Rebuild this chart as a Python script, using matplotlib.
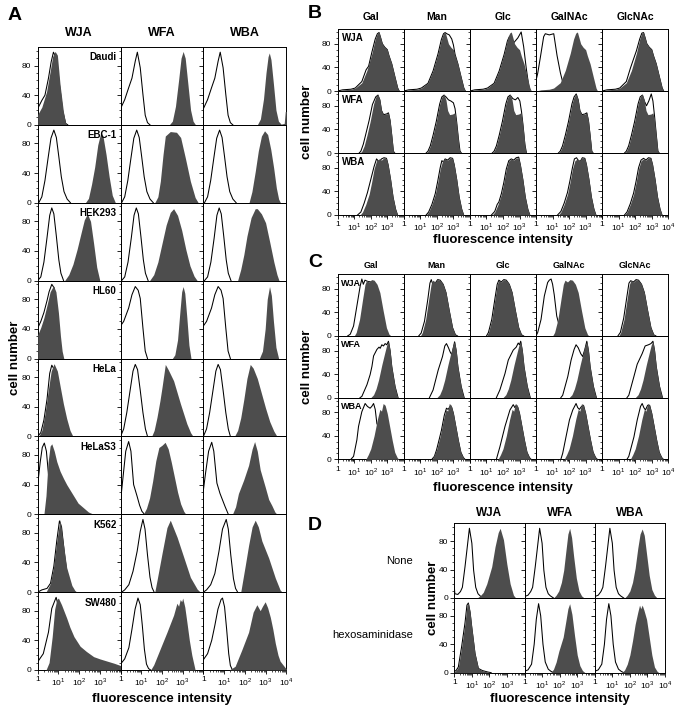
import numpy as np
import matplotlib
matplotlib.use("Agg")
import matplotlib.pyplot as plt
from matplotlib.ticker import FixedLocator, FixedFormatter

plt.rcParams['font.family'] = ['Liberation Sans', 'DejaVu Sans']
plt.rcParams['mathtext.fontset'] = 'custom'
plt.rcParams['mathtext.rm'] = 'Liberation Sans'
plt.rcParams['mathtext.bf'] = 'Liberation Sans:bold'

# each curve: (log10 fluorescence intensity, cell number)

# ---- panel A ----
a_cells = ['Daudi', 'EBC-1', 'HEK293', 'HL60', 'HeLa', 'HeLaS3', 'K562', 'SW480']
a_lectins = ['WJA', 'WFA', 'WBA']

daudi_wja_open = [(0,22),(0.2,33),(0.35,40),(0.52,63),(0.65,85),(0.76,98),(0.9,90),(1.05,55),(1.2,20),(1.35,2),(1.45,0)]
daudi_wja_fill = [(0,14),(0.2,24),(0.43,45),(0.6,72),(0.72,92),(0.84,99),(0.95,94),(1.08,54),(1.24,18),(1.35,2),(1.42,0)]
daudi_ctrl = [(0,22),(0.2,34),(0.39,50),(0.55,63),(0.71,86),(0.81,98),(0.95,77),(1.08,41),(1.19,13),(1.3,3),(1.42,0)]
daudi_wfa_fill = [(2.35,0),(2.5,5),(2.65,25),(2.8,60),(2.92,90),(3.02,99),(3.12,90),(3.25,55),(3.38,20),(3.5,5),(3.62,0)]
daudi_wba_fill = [(2.6,0),(2.75,8),(2.9,35),(3.02,70),(3.12,92),(3.18,97),(3.26,88),(3.38,55),(3.5,20),(3.62,5),(3.75,1),(3.9,2),(3.95,18),(4.0,18)]

ebc1_ctrl = [(0.05,0),(0.2,8),(0.35,30),(0.5,60),(0.64,87),(0.78,98),(0.9,88),(1.02,62),(1.14,35),(1.27,15),(1.42,5),(1.58,0)]
ebc1_wja_fill = [(2.3,0),(2.45,6),(2.6,25),(2.75,48),(2.9,78),(3.05,95),(3.15,90),(3.3,65),(3.45,35),(3.6,10),(3.75,0)]
ebc1_wfa_fill = [(1.65,0),(1.8,8),(1.92,29),(2.05,65),(2.16,90),(2.4,96),(2.7,95),(2.9,88),(3.13,60),(3.37,29),(3.6,7),(3.75,0)]
ebc1_wba_fill = [(2.2,0),(2.34,15),(2.5,42),(2.65,70),(2.8,90),(2.95,97),(3.1,92),(3.25,72),(3.39,47),(3.52,20),(3.63,5),(3.72,0)]

hek_wja_open = [(0.0,0),(0.15,5),(0.3,25),(0.45,58),(0.58,88),(0.68,98),(0.78,90),(0.9,60),(1.02,28),(1.12,10),(1.25,0)]
hek_ctrl = [(0.05,0),(0.2,5),(0.36,25),(0.52,58),(0.65,88),(0.76,98),(0.86,90),(0.98,60),(1.1,28),(1.2,10),(1.33,0)]
hek_wja_fill = [(1.3,0),(1.5,8),(1.7,22),(1.9,42),(2.1,65),(2.25,82),(2.4,90),(2.55,80),(2.7,50),(2.85,18),(3.0,0)]
hek_wfa_fill = [(1.4,0),(1.6,8),(1.8,25),(2.0,50),(2.2,75),(2.4,92),(2.56,97),(2.75,88),(2.95,68),(3.15,42),(3.35,20),(3.55,6),(3.7,0)]
hek_wba_fill = [(1.65,0),(1.8,15),(1.95,35),(2.1,60),(2.3,85),(2.5,97),(2.6,97),(2.8,90),(3.0,78),(3.2,52),(3.4,25),(3.55,8),(3.65,0)]

hl60_wja_open = [(0,41),(0.15,50),(0.3,62),(0.45,78),(0.55,90),(0.68,100),(0.8,95),(0.9,70),(1.0,35),(1.08,10),(1.15,0)]
hl60_wja_fill = [(0,32),(0.15,42),(0.3,55),(0.45,72),(0.6,90),(0.76,98),(0.88,90),(1.0,62),(1.1,30),(1.18,10),(1.26,0)]
hl60_ctrl = [(0,44),(0.15,50),(0.39,68),(0.55,86),(0.71,97),(0.85,92),(0.95,81),(1.08,41),(1.19,10),(1.3,0)]
hl60_wfa_fill = [(2.5,0),(2.62,5),(2.75,25),(2.87,65),(2.95,90),(3.02,97),(3.1,88),(3.2,55),(3.3,18),(3.4,0)]
hl60_wba_fill = [(2.7,0),(2.85,10),(2.98,40),(3.08,80),(3.19,97),(3.28,85),(3.38,50),(3.5,15),(3.63,0)]

hela_wja_open = [(0.0,0),(0.15,5),(0.3,22),(0.45,50),(0.58,85),(0.68,96),(0.76,92),(0.9,60),(1.05,25),(1.2,5),(1.35,0)]
hela_wja_fill = [(0.05,0),(0.2,8),(0.35,30),(0.5,60),(0.65,88),(0.79,98),(0.95,88),(1.1,65),(1.24,44),(1.4,24),(1.56,8),(1.7,0)]
hela_ctrl = [(0.0,0),(0.15,10),(0.3,32),(0.45,60),(0.6,88),(0.71,97),(0.82,90),(0.95,62),(1.08,32),(1.2,10),(1.3,0)]
hela_wfa_fill = [(1.5,0),(1.62,8),(1.76,26),(1.9,48),(2.0,66),(2.16,97),(2.3,90),(2.56,75),(2.89,44),(3.2,17),(3.38,5),(3.5,0)]
hela_wba_fill = [(1.5,0),(1.65,8),(1.8,25),(1.95,50),(2.1,78),(2.26,97),(2.4,92),(2.6,78),(2.8,58),(3.0,38),(3.2,20),(3.4,7),(3.55,0)]

helas3_wja_open = [(0,40),(0.12,70),(0.22,90),(0.32,96),(0.42,85),(0.5,60),(0.6,30),(0.72,10),(0.85,2),(1.0,0)]
helas3_wja_fill = [(0.3,0),(0.4,25),(0.5,70),(0.6,92),(0.68,95),(0.8,85),(0.92,71),(1.08,58),(1.25,48),(1.4,40),(1.73,25),(1.95,15),(2.2,9),(2.45,3),(2.7,0)]
helas3_wfa_open = [(0,18),(0.1,45),(0.25,85),(0.39,98),(0.5,85),(0.63,40),(0.79,25),(0.92,12),(1.03,4),(1.15,0)]
helas3_wfa_fill = [(1.1,0),(1.25,8),(1.4,22),(1.55,45),(1.7,72),(1.85,90),(2.0,93),(2.15,97),(2.3,88),(2.45,70),(2.6,50),(2.75,30),(2.9,14),(3.05,4),(3.15,0)]
helas3_wba_open = [(0,33),(0.1,55),(0.25,85),(0.4,97),(0.5,85),(0.65,42),(0.8,28),(1.05,10),(1.2,0)]
helas3_wba_fill = [(1.4,0),(1.55,10),(1.69,28),(1.94,46),(2.18,66),(2.35,88),(2.47,98),(2.6,85),(2.74,60),(2.98,37),(3.15,20),(3.3,12),(3.45,3),(3.55,0)]

k562_wja_open = [(0,0),(0.2,3),(0.45,5),(0.62,12),(0.78,35),(0.92,69),(1.05,96),(1.15,88),(1.3,50),(1.45,18),(1.6,4),(1.8,0)]
k562_wja_fill = [(0.4,0),(0.6,11),(0.76,33),(0.92,69),(1.08,98),(1.24,65),(1.4,33),(1.65,9),(1.8,2),(1.9,0)]
k562_wfa_open = [(0.05,0),(0.2,3),(0.4,10),(0.6,28),(0.8,55),(0.95,82),(1.08,98),(1.18,85),(1.3,50),(1.42,20),(1.52,6),(1.62,0)]
k562_wfa_fill = [(1.65,0),(1.76,16),(2.0,52),(2.24,87),(2.4,97),(2.73,74),(3.05,47),(3.37,20),(3.7,4),(3.85,0)]
k562_wba_open = [(0.0,0),(0.15,3),(0.35,10),(0.55,25),(0.75,55),(0.92,85),(1.1,98),(1.2,85),(1.32,50),(1.45,18),(1.55,5),(1.65,0)]
k562_wba_fill = [(1.8,0),(2.02,36),(2.18,63),(2.35,88),(2.5,97),(2.65,88),(2.82,69),(3.15,46),(3.47,19),(3.7,3),(3.8,0)]

sw480_wja_open = [(0,11),(0.27,22),(0.52,51),(0.68,83),(0.89,98),(0.98,88),(1.08,55),(1.18,20),(1.28,4),(1.38,0)]
sw480_wja_fill = [(0.4,0),(0.55,10),(0.7,45),(0.82,82),(0.92,95),(1.0,97),(1.15,88),(1.4,70),(1.55,58),(1.75,45),(2.05,32),(2.35,25),(2.7,18),(3.0,15),(3.35,12),(3.7,9),(4.0,6)]
sw480_wfa_open = [(0,8),(0.2,15),(0.4,30),(0.55,55),(0.7,82),(0.84,97),(0.95,88),(1.05,60),(1.15,28),(1.25,8),(1.35,2),(1.45,0)]
sw480_wfa_fill = [(1.45,0),(1.6,7),(1.92,29),(2.24,51),(2.56,74),(2.72,90),(2.8,86),(2.88,95),(2.95,92),(3.0,97),(3.1,85),(3.2,65),(3.32,40),(3.44,20),(3.6,0)]
sw480_wba_open = [(0,14),(0.2,22),(0.4,40),(0.55,60),(0.7,82),(0.85,95),(0.92,97),(1.02,85),(1.12,55),(1.22,22),(1.3,6),(1.4,0)]
sw480_wba_fill = [(1.25,0),(1.53,5),(1.85,27),(2.18,51),(2.4,78),(2.58,88),(2.74,80),(2.85,86),(2.98,92),(3.1,84),(3.23,71),(3.35,55),(3.47,36),(3.6,20),(3.7,12),(3.95,3),(4.0,2)]

a_open = [
    [daudi_wja_open, daudi_ctrl, daudi_ctrl],
    [ebc1_ctrl, ebc1_ctrl, ebc1_ctrl],
    [hek_wja_open, hek_ctrl, hek_ctrl],
    [hl60_wja_open, hl60_ctrl, hl60_ctrl],
    [hela_wja_open, hela_ctrl, hela_ctrl],
    [helas3_wja_open, helas3_wfa_open, helas3_wba_open],
    [k562_wja_open, k562_wfa_open, k562_wba_open],
    [sw480_wja_open, sw480_wfa_open, sw480_wba_open],
]
a_fill = [
    [daudi_wja_fill, daudi_wfa_fill, daudi_wba_fill],
    [ebc1_wja_fill, ebc1_wfa_fill, ebc1_wba_fill],
    [hek_wja_fill, hek_wfa_fill, hek_wba_fill],
    [hl60_wja_fill, hl60_wfa_fill, hl60_wba_fill],
    [hela_wja_fill, hela_wfa_fill, hela_wba_fill],
    [helas3_wja_fill, helas3_wfa_fill, helas3_wba_fill],
    [k562_wja_fill, k562_wfa_fill, k562_wba_fill],
    [sw480_wja_fill, sw480_wfa_fill, sw480_wba_fill],
]

# ---- panels B and C ----
sugars = ['Gal', 'Man', 'Glc', 'GalNAc', 'GlcNAc']
bc_lectins = ['WJA', 'WFA', 'WBA']

b_wja_fill = [(0.0,0),(0.3,2),(0.8,3),(1.06,5),(1.46,14),(1.77,35),(2.07,64),(2.27,88),(2.4,98),(2.5,100),(2.6,90),(2.7,80),(2.85,74),(3.0,70),(3.1,60),(3.27,46),(3.47,23),(3.63,5),(3.72,0)]
b_wfa_fill = [(1.35,0),(1.46,3),(1.6,12),(1.77,30),(1.96,53),(2.17,83),(2.3,95),(2.43,100),(2.55,90),(2.65,72),(2.77,65),(2.95,66),(3.07,68),(3.17,55),(3.27,30),(3.37,3),(3.45,0)]
b_wba_fill = [(1.35,0),(1.5,5),(1.7,18),(1.9,35),(2.05,55),(2.2,78),(2.35,92),(2.5,95),(2.65,93),(2.8,97),(2.95,96),(3.05,85),(3.2,60),(3.35,30),(3.5,10),(3.62,0)]

b_wja_gal = [(0.0,0),(0.3,2),(0.8,3),(1.06,5),(1.46,16),(1.72,36),(1.87,42),(2.07,66),(2.27,88),(2.4,97),(2.5,99),(2.6,90),(2.7,80),(2.85,74),(3.0,70),(3.1,60),(3.27,46),(3.47,23),(3.63,5),(3.72,0)]
b_wja_man = [(0.0,0),(0.3,2),(0.8,3),(1.06,5),(1.46,13),(1.77,34),(2.07,63),(2.27,87),(2.4,97),(2.5,99),(2.6,97),(2.75,95),(2.9,88),(3.0,78),(3.1,62),(3.27,46),(3.47,23),(3.63,5),(3.72,0)]
b_wja_glc = [(0.0,0),(0.3,2),(0.8,3),(1.06,5),(1.46,13),(1.77,34),(2.07,62),(2.27,85),(2.4,93),(2.5,90),(2.66,82),(2.9,90),(3.1,100),(3.25,75),(3.4,40),(3.55,10),(3.65,0)]
b_wja_galnac = [(0.0,18),(0.1,30),(0.26,57),(0.46,92),(0.56,97),(0.8,95),(1.07,97),(1.27,60),(1.47,31),(1.62,14),(1.77,3),(1.9,0)]
b_wja_glcnac = [(0.0,0),(0.3,2),(0.8,3),(1.06,5),(1.46,16),(1.7,38),(1.87,52),(2.07,68),(2.27,88),(2.4,98),(2.5,99),(2.6,90),(2.7,80),(2.85,74),(3.0,70),(3.1,60),(3.27,46),(3.47,23),(3.63,5),(3.72,0)]
b_wfa_gal = [(1.3,0),(1.4,3),(1.55,15),(1.7,32),(1.9,55),(2.1,82),(2.3,95),(2.43,98),(2.55,90),(2.65,72),(2.77,65),(2.95,66),(3.07,68),(3.17,55),(3.27,30),(3.37,3),(3.45,0)]
b_wfa_man = [(1.35,0),(1.46,3),(1.6,12),(1.77,30),(1.96,53),(2.17,83),(2.3,95),(2.43,98),(2.55,95),(2.7,90),(2.85,88),(3.0,85),(3.1,75),(3.2,52),(3.3,25),(3.4,3),(3.48,0)]
b_wfa_glc = [(1.35,0),(1.46,3),(1.6,12),(1.77,30),(1.96,53),(2.17,83),(2.3,95),(2.43,98),(2.6,92),(2.75,90),(2.9,94),(3.02,88),(3.12,70),(3.22,45),(3.32,15),(3.42,0)]
b_wfa_galnac = b_wfa_fill
b_wfa_glcnac = [(1.35,0),(1.46,3),(1.6,12),(1.77,30),(1.96,53),(2.17,83),(2.3,95),(2.43,98),(2.55,88),(2.68,80),(2.82,88),(2.97,100),(3.07,88),(3.17,62),(3.27,32),(3.37,3),(3.45,0)]
b_wba_gal = [(1.2,0),(1.4,5),(1.6,20),(1.8,38),(2.0,60),(2.2,82),(2.35,95),(2.5,90),(2.65,95),(2.8,97),(2.95,96),(3.05,85),(3.2,60),(3.35,30),(3.5,10),(3.62,0)]
b_wba_man = [(1.35,0),(1.5,5),(1.7,18),(1.9,36),(2.05,57),(2.2,80),(2.3,92),(2.4,90),(2.5,95),(2.65,93),(2.8,97),(2.95,96),(3.05,85),(3.2,60),(3.35,30),(3.5,10),(3.62,0)]
b_wba_glc = [(1.3,0),(1.5,6),(1.65,18),(1.75,22),(1.9,36),(2.05,55),(2.2,78),(2.35,92),(2.5,95),(2.65,93),(2.8,97),(2.95,98),(3.05,85),(3.2,60),(3.35,30),(3.5,10),(3.62,0)]
b_wba_galnac = [(1.3,0),(1.5,6),(1.7,20),(1.9,38),(2.05,58),(2.2,80),(2.32,95),(2.45,97),(2.6,90),(2.7,92),(2.8,97),(2.95,96),(3.05,85),(3.2,60),(3.35,30),(3.5,10),(3.62,0)]
b_wba_glcnac = [(1.35,0),(1.5,5),(1.7,19),(1.9,37),(2.05,57),(2.2,80),(2.35,93),(2.5,96),(2.65,93),(2.8,97),(2.95,96),(3.05,85),(3.2,60),(3.35,30),(3.5,10),(3.62,0)]

c_wja_fill = [(1.0,0),(1.12,6),(1.32,28),(1.52,65),(1.65,88),(1.75,95),(1.9,92),(2.05,96),(2.2,95),(2.38,88),(2.55,74),(2.75,43),(2.95,14),(3.12,2),(3.25,0)]
c_wfa_fill = [(2.0,0),(2.17,5),(2.32,15),(2.47,30),(2.67,56),(2.87,79),(2.97,90),(3.07,96),(3.17,80),(3.27,53),(3.37,35),(3.47,19),(3.57,6),(3.65,0)]
c_wba_fill = [(1.7,0),(1.85,8),(2.0,18),(2.2,40),(2.4,68),(2.55,85),(2.65,82),(2.75,95),(2.87,92),(3.0,78),(3.15,55),(3.3,32),(3.45,12),(3.6,3),(3.7,0)]

c_wja_gal = [(0.6,0),(0.76,3),(0.96,17),(1.16,51),(1.36,85),(1.46,97),(1.55,88),(1.65,95),(1.8,93),(2.0,92),(2.2,85),(2.4,70),(2.6,42),(2.8,15),(3.0,2),(3.15,0)]
c_wja_man = [(0.9,0),(1.05,5),(1.25,25),(1.45,62),(1.58,90),(1.66,96),(1.75,88),(1.9,90),(2.05,96),(2.2,95),(2.38,88),(2.55,74),(2.75,43),(2.95,14),(3.12,2),(3.25,0)]
c_wja_glc = c_wja_fill
c_wja_galnac = [(0.0,0),(0.1,6),(0.3,28),(0.5,68),(0.7,91),(0.8,95),(0.91,97),(1.0,88),(1.1,70),(1.25,34),(1.46,11),(1.56,3),(1.65,0)]
c_wja_glcnac = [(0.95,0),(1.1,6),(1.3,30),(1.5,68),(1.62,90),(1.72,94),(1.9,92),(2.05,96),(2.2,95),(2.38,88),(2.55,74),(2.75,43),(2.95,14),(3.12,2),(3.25,0)]
c_wfa_gal = [(1.35,0),(1.46,2),(1.77,22),(1.96,39),(2.07,53),(2.17,71),(2.37,82),(2.5,86),(2.57,84),(2.67,90),(2.77,88),(2.87,92),(2.97,90),(3.07,96),(3.17,80),(3.27,53),(3.47,19),(3.65,0)]
c_wfa_man = [(1.55,0),(1.77,13),(2.08,47),(2.34,70),(2.48,88),(2.58,92),(2.7,85),(2.8,78),(2.9,73),(3.0,85),(3.07,95),(3.17,80),(3.27,53),(3.47,19),(3.65,0)]
c_wfa_glc = [(1.6,0),(1.81,13),(2.12,41),(2.32,64),(2.62,81),(2.8,86),(2.92,93),(3.0,90),(3.07,96),(3.17,80),(3.27,53),(3.47,19),(3.65,0)]
c_wfa_galnac = [(1.5,0),(1.61,4),(1.92,36),(2.12,64),(2.3,82),(2.42,90),(2.55,85),(2.7,75),(2.82,70),(2.95,82),(3.07,96),(3.17,80),(3.27,53),(3.47,19),(3.65,0)]
c_wfa_glcnac = [(1.5,0),(1.61,4),(1.92,36),(2.12,57),(2.42,75),(2.6,88),(2.8,90),(2.95,92),(3.07,96),(3.17,80),(3.27,53),(3.47,19),(3.65,0)]
c_wba_gal = [(0.8,0),(0.96,5),(1.16,33),(1.26,56),(1.46,81),(1.66,95),(1.8,90),(1.96,87),(2.06,90),(2.17,95),(2.27,85),(2.37,61),(2.5,52),(2.7,48),(2.9,42),(3.05,30),(3.2,12),(3.35,3),(3.45,0)]
c_wba_man = [(1.7,0),(1.85,5),(1.98,16),(2.15,35),(2.28,50),(2.45,75),(2.58,87),(2.68,85),(2.8,90),(2.9,88),(3.0,78),(3.15,55),(3.3,32),(3.45,12),(3.6,3),(3.7,0)]
c_wba_glc = [(1.6,0),(1.81,21),(2.12,56),(2.42,84),(2.62,93),(2.72,88),(2.8,92),(2.9,88),(3.0,78),(3.15,55),(3.3,32),(3.45,12),(3.6,3),(3.7,0)]
c_wba_galnac = [(1.5,0),(1.61,10),(1.81,38),(2.02,67),(2.22,84),(2.42,95),(2.52,88),(2.62,85),(2.75,90),(2.87,92),(3.0,78),(3.15,55),(3.3,32),(3.45,12),(3.6,3),(3.7,0)]
c_wba_glcnac = [(1.5,0),(1.61,5),(1.92,38),(2.12,67),(2.32,90),(2.42,95),(2.52,88),(2.62,84),(2.75,92),(2.87,92),(3.0,78),(3.15,55),(3.3,32),(3.45,12),(3.6,3),(3.7,0)]

b_fill = [b_wja_fill, b_wfa_fill, b_wba_fill]
b_open = [
    [b_wja_gal, b_wja_man, b_wja_glc, b_wja_galnac, b_wja_glcnac],
    [b_wfa_gal, b_wfa_man, b_wfa_glc, b_wfa_galnac, b_wfa_glcnac],
    [b_wba_gal, b_wba_man, b_wba_glc, b_wba_galnac, b_wba_glcnac],
]
c_fill = [c_wja_fill, c_wfa_fill, c_wba_fill]
c_open = [
    [c_wja_gal, c_wja_man, c_wja_glc, c_wja_galnac, c_wja_glcnac],
    [c_wfa_gal, c_wfa_man, c_wfa_glc, c_wfa_galnac, c_wfa_glcnac],
    [c_wba_gal, c_wba_man, c_wba_glc, c_wba_galnac, c_wba_glcnac],
]

# ---- panel D ----
d_rows = ['None', 'hexosaminidase']
d_lectins = ['WJA', 'WFA', 'WBA']
d_none_wja_open = [(0.0,16),(0.03,6),(0.2,5),(0.35,9),(0.46,15),(0.61,44),(0.74,72),(0.86,98),(1.0,77),(1.1,39),(1.22,15),(1.35,6),(1.47,3),(1.65,0)]
d_none_ctrl = [(0.0,2),(0.2,4),(0.35,9),(0.46,15),(0.61,44),(0.74,72),(0.86,98),(1.0,77),(1.1,39),(1.22,15),(1.35,6),(1.47,3),(1.65,0)]
d_none_wja_fill = [(1.3,0),(1.47,3),(1.65,8),(1.85,20),(2.13,44),(2.32,72),(2.5,92),(2.61,98),(2.8,82),(2.99,48),(3.18,20),(3.37,4),(3.5,0)]
d_none_wfa_fill = [(1.65,0),(1.8,4),(1.95,10),(2.1,22),(2.23,39),(2.35,65),(2.47,90),(2.57,98),(2.68,85),(2.8,58),(2.95,28),(3.1,10),(3.25,3),(3.4,0)]
d_none_wba_fill = [(1.7,0),(1.85,4),(2.0,10),(2.15,22),(2.3,42),(2.45,70),(2.58,90),(2.7,97),(2.82,88),(2.95,62),(3.1,32),(3.25,12),(3.4,4),(3.55,0)]
d_hex_wja_fill = [(0.0,2),(0.1,3),(0.23,8),(0.42,37),(0.61,70),(0.72,95),(0.8,98),(0.9,85),(0.99,65),(1.18,27),(1.37,6),(1.6,3),(1.9,1),(2.1,0)]
d_hex_ctrl = [(0.0,2),(0.2,4),(0.4,12),(0.55,40),(0.67,75),(0.8,97),(0.92,80),(1.05,40),(1.18,15),(1.35,5),(1.5,2),(1.65,0)]
d_hex_wfa_fill = [(1.5,0),(1.65,5),(1.8,15),(1.95,30),(2.05,38),(2.2,50),(2.35,72),(2.47,90),(2.57,97),(2.7,82),(2.85,52),(3.0,25),(3.15,10),(3.3,3),(3.45,0)]
d_hex_wba_fill = [(1.55,0),(1.7,4),(1.85,12),(2.0,25),(2.15,45),(2.3,68),(2.45,85),(2.55,95),(2.62,90),(2.7,95),(2.8,88),(2.95,75),(3.1,50),(3.25,25),(3.4,8),(3.55,2),(3.65,0)]

d_open = [[d_none_wja_open, d_none_ctrl, d_none_ctrl],
          [d_hex_wja_fill, d_hex_ctrl, d_hex_ctrl]]
d_fill = [[d_none_wja_fill, d_none_wfa_fill, d_none_wba_fill],
          [d_hex_wja_fill, d_hex_wfa_fill, d_hex_wba_fill]]

# ---------------------------------------------------------------
W, H = 683, 715
FILL = '#4d4d4d'
fig = plt.figure(figsize=(W / 100, H / 100), dpi=100)


def fx(px):
    return px / W


def fy(py):
    return 1 - py / H


def draw(ax, open_pts, fill_pts):
    lx, y = np.array(open_pts, float).T
    ax.plot(10 ** lx, y, color='black', lw=0.75, zorder=2)
    lx, y = np.array(fill_pts, float).T
    ax.fill_between(10 ** lx, 0, y, color=FILL, lw=0, zorder=3)


def setup(ax, first_col, last_col, bottom_row):
    ax.set_xscale('log')
    ax.set_xlim(1, 1e4)
    ax.set_ylim(0, 105)
    ax.set_facecolor('none')
    for s in ax.spines.values():
        s.set_linewidth(0.7)
    ax.yaxis.set_major_locator(FixedLocator([0, 40, 80]))
    ax.yaxis.set_minor_locator(FixedLocator(np.arange(0, 101, 10)))
    ax.tick_params(axis='y', which='major', direction='out', length=3, width=0.6,
                   labelsize=6, pad=1.5, labelleft=first_col)
    ax.tick_params(axis='y', which='minor', direction='out', length=1.3, width=0.5)
    ax.xaxis.set_major_locator(FixedLocator([1, 10, 100, 1000, 10000]))
    labels = ['1', r'$10^1$', r'$10^2$', r'$10^3$', r'$10^4$' if last_col else '']
    ax.xaxis.set_major_formatter(FixedFormatter(labels))
    minor = [m * 10 ** e for e in range(4) for m in range(2, 10)]
    ax.xaxis.set_minor_locator(FixedLocator(minor))
    ax.xaxis.set_minor_formatter(FixedFormatter([''] * len(minor)))
    if bottom_row:
        ax.tick_params(axis='x', which='major', direction='out', length=3, width=0.6,
                       labelsize=6, pad=1.5)
        ax.tick_params(axis='x', which='minor', direction='out', length=1.5, width=0.5)
    else:
        ax.tick_params(axis='x', which='both', bottom=False, labelbottom=False)


def grid(left, right, top, bottom, nrows, ncols):
    cw = (right - left) / ncols
    rh = (bottom - top) / nrows
    axes = []
    for r in range(nrows):
        row = []
        for c in range(ncols):
            ax = fig.add_axes([fx(left + c * cw), fy(top + (r + 1) * rh), cw / W, rh / H])
            setup(ax, c == 0, c == ncols - 1, r == nrows - 1)
            row.append(ax)
        axes.append(row)
    return axes


def bold(x, y, s, size, **kw):
    fig.text(fx(x), fy(y), s, fontsize=size, fontweight='bold', ha='center', va='center', **kw)


# ---- A ----
axA = grid(37.7, 286.3, 47, 670, len(a_cells), len(a_lectins))
for r, cell in enumerate(a_cells):
    for c in range(len(a_lectins)):
        draw(axA[r][c], a_open[r][c], a_fill[r][c])
    axA[r][0].text(0.95, 0.93, cell, transform=axA[r][0].transAxes, ha='right', va='top',
                   fontsize=7, fontweight='bold', zorder=5)
for c, lec in enumerate(a_lectins):
    bold(37.7 + (c + 0.5) * 82.9, 33, lec, 9)
bold(15, 16, 'A', 14)
bold(15, 358, 'cell number', 9.5, rotation=90)
bold(162, 699, 'fluorescence intensity', 9.5)

# ---- B ----
axB = grid(337.7, 668.3, 29, 215, len(bc_lectins), len(sugars))
for r, lec in enumerate(bc_lectins):
    for c in range(len(sugars)):
        draw(axB[r][c], b_open[r][c], b_fill[r])
    axB[r][0].text(0.06, 0.94, lec, transform=axB[r][0].transAxes, ha='left', va='top',
                   fontsize=7, fontweight='bold', zorder=5)
for c, s in enumerate(sugars):
    bold(337.7 + (c + 0.5) * 66.1, 17, s, 7.5)
bold(315, 13, 'B', 14)
bold(307, 122, 'cell number', 9.5, rotation=90)
bold(503, 240, 'fluorescence intensity', 9.5)

# ---- C ----
axC = grid(337.7, 668.3, 274.3, 459.3, len(bc_lectins), len(sugars))
for r, lec in enumerate(bc_lectins):
    for c in range(len(sugars)):
        draw(axC[r][c], c_open[r][c], c_fill[r])
    axC[r][0].text(0.05, 0.93, lec, transform=axC[r][0].transAxes, ha='left', va='top',
                   fontsize=6.5, fontweight='bold', zorder=5)
for c, s in enumerate(sugars):
    bold(337.7 + (c + 0.5) * 66.1, 265, s, 6.5)
bold(315, 262, 'C', 14)
bold(307, 367, 'cell number', 9.5, rotation=90)
bold(503, 488, 'fluorescence intensity', 9.5)

# ---- D ----
axD = grid(454.3, 665, 523.3, 672.7, len(d_rows), len(d_lectins))
for r in range(len(d_rows)):
    for c in range(len(d_lectins)):
        draw(axD[r][c], d_open[r][c], d_fill[r][c])
for c, lec in enumerate(d_lectins):
    bold(454.3 + (c + 0.5) * 70.23, 513, lec, 8.5)
for r, name in enumerate(d_rows):
    fig.text(fx(413), fy(523.3 + (r + 0.5) * 74.7), name, fontsize=8, ha='right', va='center')
bold(315, 525, 'D', 14)
bold(433, 598, 'cell number', 9.5, rotation=90)
bold(560, 699, 'fluorescence intensity', 9.5)

fig.savefig('out.png', dpi=100)
